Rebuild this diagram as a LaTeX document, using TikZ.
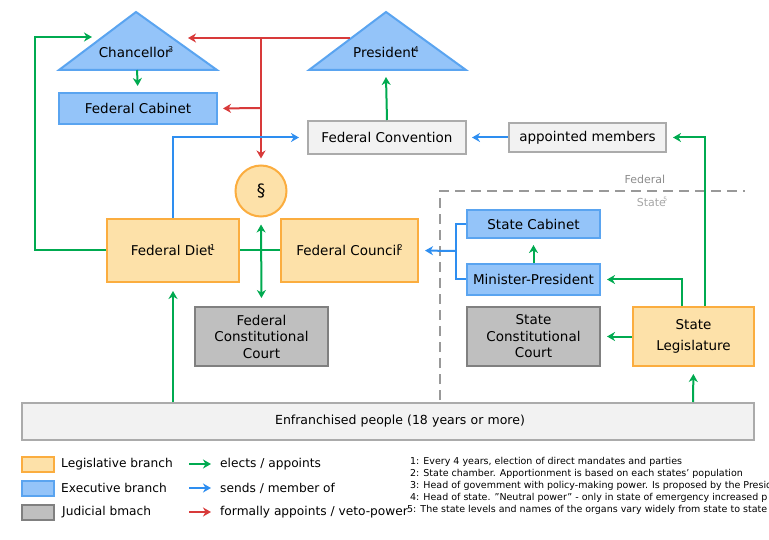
\documentclass[tikz,border=0pt]{standalone}
\usepackage{fontspec}
\setmainfont{DejaVu Sans}
\usepackage{xcolor}
\usetikzlibrary{arrows.meta,positioning,calc}
\definecolor{legfill}{HTML}{FDE1A9}
\definecolor{legdraw}{HTML}{FBAD3F}
\definecolor{exefill}{HTML}{94C4F9}
\definecolor{exedraw}{HTML}{5AA4F0}
\definecolor{judfill}{HTML}{BFBFBF}
\definecolor{juddraw}{HTML}{808080}
\definecolor{othfill}{HTML}{F2F2F2}
\definecolor{othdraw}{HTML}{ABABAB}
\definecolor{elgreen}{HTML}{00AA50}
\definecolor{snblue}{HTML}{2E8EF0}
\definecolor{vtred}{HTML}{D83A3A}
\tikzset{
  orgbox/.style={draw,line width=2pt,minimum width=#1,inner sep=0pt,align=center,font=\fontsize{13.5}{16.5}\selectfont},
  legbox/.style={orgbox=#1,fill=legfill,draw=legdraw},
  exebox/.style={orgbox=#1,fill=exefill,draw=exedraw},
  judbox/.style={orgbox=#1,fill=judfill,draw=juddraw},
  othbox/.style={orgbox=#1,fill=othfill,draw=othdraw},
  govarr/.style={-{Stealth[length=8pt,width=9pt,inset=2.5pt]},line width=2pt},
  elarr/.style={govarr,draw=elgreen},
  snarr/.style={govarr,draw=snblue},
  vtarr/.style={govarr,draw=vtred},
  legtxt/.style={anchor=west,inner sep=0pt,font=\fontsize{12.2}{13}\selectfont},
  fntxt/.style={anchor=west,inner sep=0pt,font=\fontsize{9.5}{10}\selectfont}
}
\newcommand{\supmark}[1]{\kern-2.5pt\raisebox{5pt}{\fontsize{8}{8}\selectfont #1}}

\begin{document}
\begin{tikzpicture}[x=1pt,y=-1pt]
\useasboundingbox (0,0) rectangle (769,540);
\clip (0,0) rectangle (769,540);

% triangles
\draw[fill=exefill,draw=exedraw,line width=2pt] (59,70) -- (136,12) -- (217,70) -- cycle;
\draw[fill=exefill,draw=exedraw,line width=2pt] (309,70) -- (386,12) -- (466,70) -- cycle;
\node[font=\fontsize{13.5}{16}\selectfont] (chancellor) at (136,52) {Chancellor\supmark{3}};
\node[font=\fontsize{13.5}{16}\selectfont] (president) at (386,52) {President\supmark{4}};
\coordinate (chanbase) at (137,70);
\coordinate (chanin) at (92,37);
\coordinate (chanright) at (188,38);
\coordinate (presleft) at (350,38);
\coordinate (presbase) at (386,77);

% federal level
\node[exebox=158pt,minimum height=31pt] (cabinet) at (138,108.5) {Federal Cabinet};
\node[othbox=158pt,minimum height=33pt] (convention) at (387,137.5) {Federal Convention};
\node[othbox=157pt,minimum height=29pt] (appointed) at (587.5,137.5) {appointed members};
\node[circle,fill=legfill,draw=legdraw,line width=2pt,minimum size=51pt,inner sep=0pt,font=\fontsize{17}{17}\selectfont] (para) at (261,191) {\S};
\node[legbox=132pt,minimum height=63pt] (diet) at (173,250.5) {Federal Diet\supmark{1}};
\node[legbox=137pt,minimum height=63pt] (council) at (349.5,250.5) {Federal Council\supmark{2}};
\node[judbox=133pt,minimum height=59pt] (fcc) at (261.5,336.5) {Federal\\Constitutional\\Court};

% state level
\node[exebox=133pt,minimum height=28pt] (scabinet) at (533.5,224) {State Cabinet};
\node[exebox=133pt,minimum height=31pt] (minpres) at (533.5,279.5) {Minister-President};
\node[judbox=133pt,minimum height=59pt] (scc) at (533.5,336.5) {State\\Constitutional\\Court};
\node[legbox=121pt,minimum height=59pt,font=\fontsize{13.5}{21}\selectfont] (slegis) at (693.5,336.5) {State\\Legislature};
\node[othbox=732pt,minimum height=37pt,font=\fontsize{12.5}{15}\selectfont,text width=732pt,align=center] (people) at (388,421.5) {\hspace{24pt}Enfranchised people (18 years or more)};

% federal / state border
\draw[draw=juddraw!80,line width=2pt,dash pattern=on 10pt off 6pt] (440,400) -- (440,191) -- (745,191);
\node[text=juddraw!90,font=\fontsize{11}{11}\selectfont] (fedlabel) at (645,179) {Federal};
\node[text=juddraw!70,font=\fontsize{11}{11}\selectfont] (statelabel) at (652,202) {State\supmark{\fontsize{6}{6}\selectfont 5}};

% red
\draw[vtarr] (presleft) -- (chanright);
\draw[vtarr,shorten >=6pt] (261,38) -- (para.north);
\draw[vtarr,shorten >=5pt] (261,108) -- (cabinet.east);

% green
\draw[elarr,shorten >=6pt] (chanbase) -- (cabinet.north);
\draw[elarr] (convention.north) -- (presbase);
\draw[elarr] (diet.west) -| (35,37) -- (chanin);
\draw[line width=2pt,draw=elgreen] (diet.east) -- (council.west);
\draw[elarr,{Stealth[length=8pt,width=9pt,inset=2.5pt]}-{Stealth[length=8pt,width=9pt,inset=2.5pt]},shorten <=7pt,shorten >=8pt] (para.south) -- (fcc.north);
\draw[elarr,shorten >=8pt] (people.north -| diet.south) -- (diet.south);
\draw[elarr,shorten >=7pt] (people.north -| 693,0) -- (slegis.south);
\draw[elarr,shorten >=6pt] (minpres.north) -- (scabinet.south);
\draw[elarr,shorten >=6pt] (slegis.north -| 682,0) |- (minpres.east);
\draw[elarr,shorten >=6pt] (slegis.west) -- (scc.east);
\draw[elarr,shorten >=6pt] (slegis.north -| 705,0) |- (appointed.east);

% blue
\draw[snarr,shorten >=8pt] (diet.north) |- (convention.west);
\draw[snarr,shorten >=5pt] (appointed.west) -- (convention.east);
\draw[line width=2pt,draw=snblue] (scabinet.west) -| (456,251) |- (minpres.west);
\draw[snarr,shorten >=6pt] (456,251) -- (council.east);

% legend
\node[legbox=32pt,minimum height=15pt] (keyleg) at (38,464.5) {};
\node[exebox=32pt,minimum height=15pt] (keyexe) at (38,488.5) {};
\node[judbox=32pt,minimum height=15pt] (keyjud) at (38,512.5) {};
\node[legtxt] (keylegtxt) at (61,464) {Legislative branch};
\node[legtxt] (keyexetxt) at (61,488) {Executive branch};
\node[legtxt] (keyjudtxt) at (62,512) {Judicial bmach};
\coordinate (elfrom) at (189,464);
\coordinate (elto) at (211,464);
\coordinate (snfrom) at (189,488);
\coordinate (snto) at (211,488);
\coordinate (vtfrom) at (189,512);
\coordinate (vtto) at (211,512);
\draw[elarr] (elfrom) -- (elto);
\draw[snarr] (snfrom) -- (snto);
\draw[vtarr] (vtfrom) -- (vtto);
\node[legtxt] (eltxt) at (220,464) {elects / appoints};
\node[legtxt] (sntxt) at (220,488) {sends / member of};
\node[legtxt] (vttxt) at (220,512) {formally appoints / veto-power};

% footnotes
\node[fntxt] (fn1) at (410,462) {1: Every 4 years, election of direct mandates and parties};
\node[fntxt] (fn2) at (410,474) {2: State chamber. Apportionment is based on each states' population};
\node[fntxt] (fn3) at (410,486) {3: Head of govemment with policy-making power. Is proposed by the Presid};
\node[fntxt] (fn4) at (410,498) {4: Head of state. "Neutral power" - only in state of emergency increased p};
\node[fntxt] (fn5) at (407,510) {5: The state levels and names of the organs vary widely from state to state};
\end{tikzpicture}
\end{document}
